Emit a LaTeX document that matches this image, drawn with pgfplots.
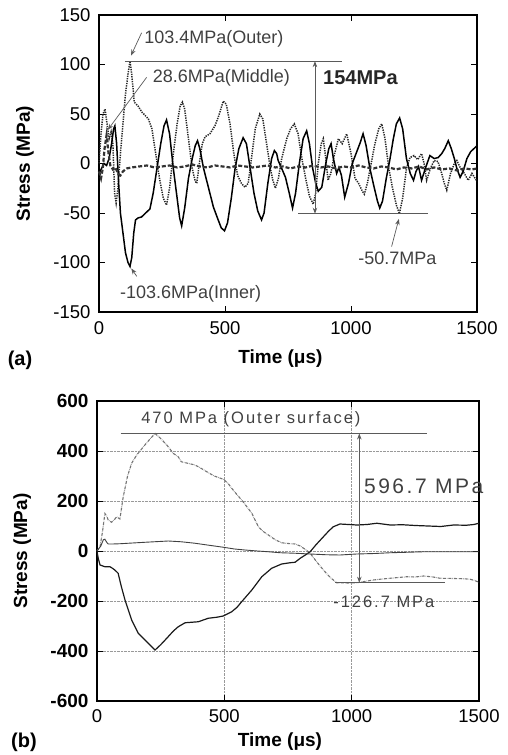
\documentclass[border=0pt]{standalone}
\usepackage{fontspec}
\setmainfont{Liberation Sans}
\newfontfamily\spaced[LetterSpace=12]{Liberation Sans}
\usepackage{pgfplots}
\pgfplotsset{compat=1.18}
\usetikzlibrary{arrows.meta}

\newcommand\tk{\fontsize{18.5}{20}\selectfont}
\newcommand\lab{\fontsize{19}{22}\selectfont\bfseries}
\newcommand\ann{\fontsize{18}{20}\selectfont}
\definecolor{anngray}{HTML}{404040}
\definecolor{linegray}{HTML}{5A5A5A}

\begin{document}
\begin{tikzpicture}
\useasboundingbox (0,0) rectangle (507pt,755pt);

% ---------------- panel (a)
\begin{axis}[
  at={(99pt,443pt)}, anchor=south west,
  scale only axis, width=378pt, height=297pt,
  xmin=0, xmax=1500, ymin=-150, ymax=150,
  xtick={0,500,1000,1500}, xticklabels={0,500,1000,1500},
  ytick={-150,-100,-50,0,50,100,150},
  yticklabels={-150,-100,-50,0,50,100,150},
  tick align=inside, major tick length=6pt,
  every tick/.style={black, line width=0.8pt},
  axis line style={line width=1.6pt},
  tick label style={font=\tk},
  yticklabel style={xshift=-5pt},
  xticklabel style={yshift=-6pt},
  xlabel={Time (μs)}, ylabel={Stress (MPa)},
  every axis x label/.style={at={(axis description cs:0.48,0)}, anchor=center, yshift=-47pt, font=\lab},
  every axis y label/.style={at={(axis description cs:-0.196,0.5)}, anchor=center, rotate=90, font=\lab},
  clip=false,
]
% outer surface
\addplot[dash pattern=on 1.3pt off 1.1pt, line width=1.5pt, black!85] coordinates {
(0,0) (8,30) (16,50) (24,55) (32,40) (40,25) (48,32) (55,20) (62,-30) (68,-40)
(75,-25) (85,10) (95,40) (105,70) (115,90) (123,103.4) (130,90) (140,62) (155,58)
(170,52) (185,48) (196,45) (210,35) (225,10) (240,-15) (255,-35) (268,-42) (280,-25)
(295,10) (310,40) (322,58) (331,62) (340,55) (355,25) (370,-5) (382,-18) (388,-20)
(398,0) (410,20) (421,27) (440,30) (460,38) (475,48) (493,63) (505,60) (520,40)
(535,10) (550,-12) (565,-20) (579,-24) (592,-20) (605,5) (620,35) (638,50) (650,45)
(665,20) (680,-5) (690,-17) (700,-25) (712,-15) (725,5) (745,25) (760,35) (775,40)
(790,30) (805,5) (820,-15) (835,-33) (850,-41) (860,-30) (870,0) (882,20) (890,25)
(900,5) (909,-17) (920,-10) (935,10) (950,25) (965,20) (983,30) (1000,10) (1016,-15)
(1030,-20) (1045,-28) (1053,-31) (1065,-20) (1080,0) (1095,20) (1110,35) (1122,40)
(1135,25) (1150,-5) (1165,-25) (1180,-42) (1192,-50.7) (1205,-35) (1220,-5) (1234,6)
(1250,8) (1265,4) (1280,10) (1290,0) (1300,-17) (1315,-5) (1330,3) (1345,2) (1360,-10)
(1370,-20) (1380,-27) (1395,-10) (1410,0) (1420,3) (1435,-5) (1450,-10) (1465,-17)
(1480,-10) (1490,-14) (1500,-18)
};
% inner surface
\addplot[solid, line width=1.5pt, black] coordinates {
(0,-10) (10,-5) (20,0) (30,-2) (40,5) (50,20) (58,35) (63,38) (70,20) (78,-20)
(85,-50) (95,-70) (105,-90) (115,-100) (123,-104) (130,-95) (138,-70) (145,-57)
(155,-55) (169,-54) (185,-50) (202,-46) (215,-30) (230,-5) (245,20) (258,38) (268,44)
(280,30) (295,-5) (310,-35) (320,-55) (328,-63) (340,-45) (355,-15) (370,5) (382,18)
(391,23) (400,15) (415,-5) (427,-17) (440,-30) (454,-44) (470,-55) (485,-65) (498,-68)
(510,-60) (525,-35) (540,-5) (555,15) (572,26) (585,20) (600,-5) (615,-30) (630,-48)
(645,-57) (655,-50) (670,-20) (685,5) (696,13) (705,10) (711,3) (725,-5) (740,-14)
(755,-30) (768,-45) (780,-30) (795,0) (810,25) (824,33) (835,20) (848,-5) (860,-20)
(870,-28) (884,-24) (900,0) (912,15) (921,20) (930,5) (943,-10) (952,-4) (962,-12)
(975,-34) (990,-20) (1005,0) (1020,10) (1035,20) (1048,30) (1060,18) (1075,-5)
(1090,-22) (1105,-38) (1114,-45) (1125,-38) (1140,-15) (1155,5) (1168,25) (1180,40)
(1193,46) (1205,35) (1220,5) (1235,-10) (1248,-17) (1258,-8) (1268,-3) (1280,-17)
(1295,-5) (1313,8) (1330,5) (1346,6) (1360,10) (1372,15) (1386,23) (1398,15) (1410,5)
(1420,-5) (1433,-14) (1445,-8) (1460,5) (1475,12) (1492,16) (1500,18)
};
% middle
\addplot[dash pattern=on 4pt off 2pt, line width=2.2pt, black!80] coordinates {
(0,-8) (8,-15) (15,-5) (22,15) (30,28.6) (38,10) (45,-2) (55,-6) (65,-4) (75,-10)
(85,-12) (95,-8) (110,-5) (130,-4) (160,-3) (190,-2) (220,-4) (250,-3) (280,-2)
(310,-4) (340,-3) (370,-1) (400,-3) (430,-4) (460,-2) (490,-3) (520,-4) (550,-2)
(580,-3) (610,-4) (640,-3) (670,-2) (700,-4) (730,-3) (760,-5) (790,-3) (820,-4)
(850,-2) (880,-4) (910,-3) (940,-5) (970,-3) (1000,-4) (1030,-2) (1060,-4) (1090,-5)
(1120,-3) (1150,-4) (1180,-6) (1210,-4) (1240,-5) (1270,-3) (1300,-6) (1330,-4)
(1360,-6) (1390,-5) (1420,-7) (1450,-5) (1480,-6) (1500,-5)
};
% annotations
\draw[linegray, line width=0.7pt] (axis cs:103,103.4) -- (axis cs:963,103.4);
\draw[linegray, line width=0.7pt] (axis cs:791,-50.7) -- (axis cs:1304,-50.7);
\draw[linegray, line width=0.8pt, {Stealth[length=6pt]}-{Stealth[length=6pt]}] (axis cs:857,103.4) -- (axis cs:857,-50.7);
\draw[linegray, line width=0.7pt, -{Stealth[length=6pt]}] (axis cs:169,132) -- (axis cs:127,109);
\draw[linegray, line width=0.7pt, -{Stealth[length=6pt]}] (axis cs:189,87) -- (axis cs:35,34);
\draw[linegray, line width=0.7pt, -{Stealth[length=6pt]}] (axis cs:1161,-84) -- (axis cs:1190,-56);
\draw[linegray, line width=0.7pt, -{Stealth[length=6pt]}] (axis cs:150,-114) -- (axis cs:128,-106);
\node[anngray, anchor=west, inner sep=0, font=\ann] at (axis cs:179,126) {103.4MPa(Outer)};
\node[anngray, anchor=west, inner sep=0, font=\ann] at (axis cs:213,87) {28.6MPa(Middle)};
\node[black!85, anchor=west, inner sep=0, font=\fontsize{20}{22}\selectfont\bfseries] at (axis cs:889,86.6) {154MPa};
\node[anngray, anchor=west, inner sep=0, font=\ann] at (axis cs:1028,-96) {-50.7MPa};
\node[anngray, anchor=west, inner sep=0, font=\ann] at (axis cs:83,-131.6) {-103.6MPa(Inner)};
\end{axis}

% ---------------- panel (b)
\begin{axis}[
  at={(97pt,54pt)}, anchor=south west,
  scale only axis, width=382pt, height=300pt,
  xmin=0, xmax=1500, ymin=-600, ymax=600,
  xtick={0,500,1000,1500}, xticklabels={0,500,1000,1500},
  ytick={-600,-400,-200,0,200,400,600},
  yticklabels={-600,-400,-200,0,200,400,600},
  tick align=inside, major tick length=6pt,
  every tick/.style={black, line width=0.8pt},
  axis line style={line width=1.5pt},
  grid=major, major grid style={densely dotted, gray!80, line width=0.6pt},
  tick label style={font=\tk},
  yticklabel style={xshift=-5pt, font=\fontsize{19}{20}\selectfont\bfseries},
  xticklabel style={yshift=-5pt},
  xlabel={Time (μs)}, ylabel={Stress (MPa)},
  every axis x label/.style={at={(axis description cs:0.479,0)}, anchor=center, yshift=-41pt, font=\lab},
  every axis y label/.style={at={(axis description cs:-0.196,0.5)}, anchor=center, rotate=90, font=\lab},
  clip=false,
]
% outer surface
\addplot[densely dashdotted, line width=1.1pt, black!55] coordinates {
(0,0) (12,17) (22,80) (31,150) (38,140) (44,124) (57,115) (68,125) (77,137) (90,128)
(103,217) (120,300) (136,351) (156,384) (188,424) (210,450) (228,470) (250,450)
(274,424) (300,390) (319,377) (331,357) (360,350) (385,344) (410,330) (431,317)
(460,300) (496,287) (515,270) (529,251) (550,225) (568,204) (590,175) (608,151)
(620,125) (634,97) (650,80) (673,64) (700,45) (725,33) (750,30) (778,28) (798,20)
(820,5) (837,-9) (860,-40) (889,-76) (915,-105) (941,-127) (980,-128) (1020,-127)
(1050,-122) (1085,-116) (1120,-112) (1151,-109) (1216,-103) (1250,-104) (1282,-100)
(1320,-104) (1347,-109) (1400,-110) (1440,-111) (1465,-113) (1480,-117) (1500,-125)
};
% inner surface
\addplot[solid, line width=1.2pt, black!90] coordinates {
(0,0) (5,-30) (12,-56) (31,-63) (51,-63) (62,-70) (70,-76) (83,-89) (95,-140)
(110,-196) (136,-276) (162,-329) (195,-363) (228,-396) (250,-375) (274,-349)
(300,-320) (319,-303) (346,-287) (398,-283) (437,-269) (470,-265) (496,-260)
(529,-243) (550,-225) (568,-203) (608,-156) (647,-103) (686,-69) (725,-52) (758,-47)
(778,-45) (798,-29) (815,-18) (837,-3) (860,25) (889,57) (910,80) (928,97) (954,108)
(1020,104) (1060,106) (1099,111) (1151,104) (1200,105) (1250,102) (1300,100)
(1350,98) (1400,104) (1450,103) (1480,106) (1500,111)
};
% middle
\addplot[solid, line width=0.9pt, black!75] coordinates {
(0,0) (15,20) (25,45) (31,47) (38,35) (44,28) (60,28) (90,29) (123,31) (190,35)
(280,40) (330,37) (385,31) (440,23) (496,15) (540,8) (581,4) (630,0) (673,-3)
(720,-7) (778,-9) (837,-12) (900,-15) (954,-16) (1020,-12) (1090,-10) (1151,-7)
(1220,-5) (1282,-3) (1400,-3) (1500,-3)
};
% annotations
\draw[linegray, line width=0.7pt] (axis cs:93,470) -- (axis cs:1295,470);
\draw[linegray, line width=0.7pt] (axis cs:935,-126.7) -- (axis cs:1367,-126.7);
\draw[linegray, line width=0.8pt, {Stealth[length=6pt]}-{Stealth[length=6pt]}] (axis cs:1030,470) -- (axis cs:1030,-126.7);
\node[anngray, anchor=west, inner sep=0, font=\spaced\fontsize{16.5}{18}\selectfont] at (axis cs:173,528) {470 MPa (Outer surface)};
\node[anngray, anchor=west, inner sep=0, font=\spaced\fontsize{21}{24}\selectfont] at (axis cs:1048,257) {596.7 MPa};
\node[anngray, anchor=west, inner sep=0, font=\spaced\fontsize{16.5}{18}\selectfont] at (axis cs:927,-203) {-126.7 MPa};
\end{axis}

\node[font=\fontsize{20}{22}\selectfont\bfseries] at (20pt,395pt) {(a)};
\node[font=\fontsize{20}{22}\selectfont\bfseries] at (24pt,13pt) {(b)};
\end{tikzpicture}
\end{document}
